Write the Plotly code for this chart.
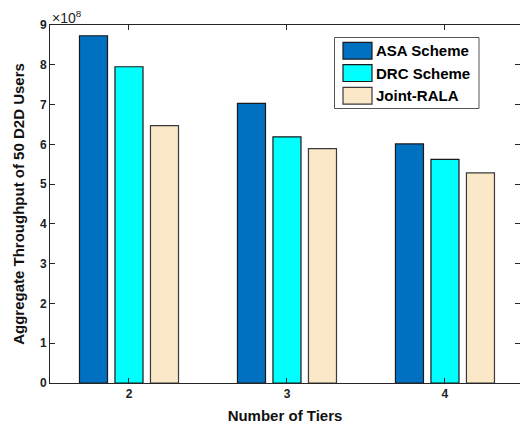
import plotly.graph_objects as go

# Number of tiers on the x axis
tiers = [2, 3, 4]

# Aggregate throughput of 50 D2D users for each scheme
asa_scheme = [8.73e8, 7.03e8, 6.01e8]
drc_scheme = [7.95e8, 6.19e8, 5.62e8]
joint_rala = [6.47e8, 5.89e8, 5.28e8]

series_names = ["ASA Scheme", "DRC Scheme", "Joint-RALA"]
y_tick_vals = [0, 1e8, 2e8, 3e8, 4e8, 5e8, 6e8, 7e8, 8e8, 9e8]
y_tick_text = ["0", "1", "2", "3", "4", "5", "6", "7", "8", "9"]

colors = ["#0070C0", "#00FFFF", "#FBE8C9"]
edges = ["#1a1a1a", "#1a1a1a", "#3a3a3a"]

FONT = "Liberation Sans, Arial, sans-serif"
AXIS = "#262626"

W, H = 520, 424
ML, MR, MT, MB = 50, 0, 25, 41
PW, PH = W - ML - MR, H - MT - MB


def px(x):
    return (x - ML) / PW


def py(y):
    return (H - MB - y) / PH


fig = go.Figure()
for name, vals, col, edge in zip(series_names, [asa_scheme, drc_scheme, joint_rala], colors, edges):
    fig.add_trace(go.Bar(
        x=tiers, y=vals, name=name, showlegend=False,
        marker=dict(color=col, line=dict(color=edge, width=1.2)),
    ))

# ticks only on the right-hand side of the box
fig.add_trace(go.Bar(x=tiers, y=asa_scheme, yaxis="y2", showlegend=False,
                     hoverinfo="skip", opacity=0, marker=dict(line=dict(width=0))))

# legend box with large swatches
shapes = [dict(type="rect", xref="paper", yref="paper",
               x0=px(334.5), x1=px(479), y0=py(108.5), y1=py(37.5),
               line=dict(color="#555", width=1), fillcolor="white", layer="above")]
annotations = []
row_tops = [42.3, 64.7, 87.3]
for name, col, edge, top in zip(series_names, colors, edges, row_tops):
    shapes.append(dict(type="rect", xref="paper", yref="paper",
                       x0=px(343), x1=px(372), y0=py(top + 16.8), y1=py(top),
                       line=dict(color=edge, width=1.2), fillcolor=col, layer="above"))
    annotations.append(dict(xref="paper", yref="paper", x=px(374), y=py(top + 8.6),
                            xanchor="left", yanchor="middle", showarrow=False,
                            text="<b>%s</b>" % name,
                            font=dict(size=15, family=FONT, color="#000")))

annotations.append(dict(
    xref="paper", yref="paper", x=0.0, y=1.0, xanchor="left", yanchor="bottom",
    text="×10<sup>8</sup>", showarrow=False, yshift=-3, xshift=0,
    font=dict(size=14, family=FONT, color="#222"),
))

fig.update_layout(
    width=W, height=H,
    margin=dict(l=ML, r=MR, t=MT, b=MB),
    paper_bgcolor="white", plot_bgcolor="white",
    barmode="group", bargap=0.326, bargroupgap=0.21,
    showlegend=False,
    font=dict(family=FONT, color="#000"),
    xaxis=dict(
        range=[1.5, 4.475], tickvals=tiers, ticktext=[str(t) for t in tiers],
        showline=True, linecolor=AXIS, linewidth=1, mirror="ticks",
        ticks="inside", ticklen=5, tickcolor=AXIS,
        showgrid=False, zeroline=False,
        tickfont=dict(size=12, family=FONT, color="#222", weight="bold"),
        title=dict(text="<b>Number of Tiers</b>", font=dict(size=15, family=FONT, color="#111"), standoff=10),
    ),
    yaxis=dict(
        range=[0, 9e8], tickvals=y_tick_vals, ticktext=y_tick_text,
        showline=True, linecolor=AXIS, linewidth=1, mirror=False,
        ticks="inside", ticklen=5, tickcolor=AXIS,
        showgrid=False, zeroline=False,
        tickfont=dict(size=12, family=FONT, color="#222", weight="bold"),
        title=dict(text="<b>Aggregate Throughput of 50 D2D Users</b>", font=dict(size=15, family=FONT, color="#111"), standoff=11),
    ),
    yaxis2=dict(
        overlaying="y", side="right", range=[0, 9e8],
        tickvals=y_tick_vals, showticklabels=False, showline=False,
        ticks="inside", ticklen=5, tickcolor=AXIS, showgrid=False, zeroline=False,
    ),
    shapes=shapes,
    annotations=annotations,
)

fig.write_html("out.html")
